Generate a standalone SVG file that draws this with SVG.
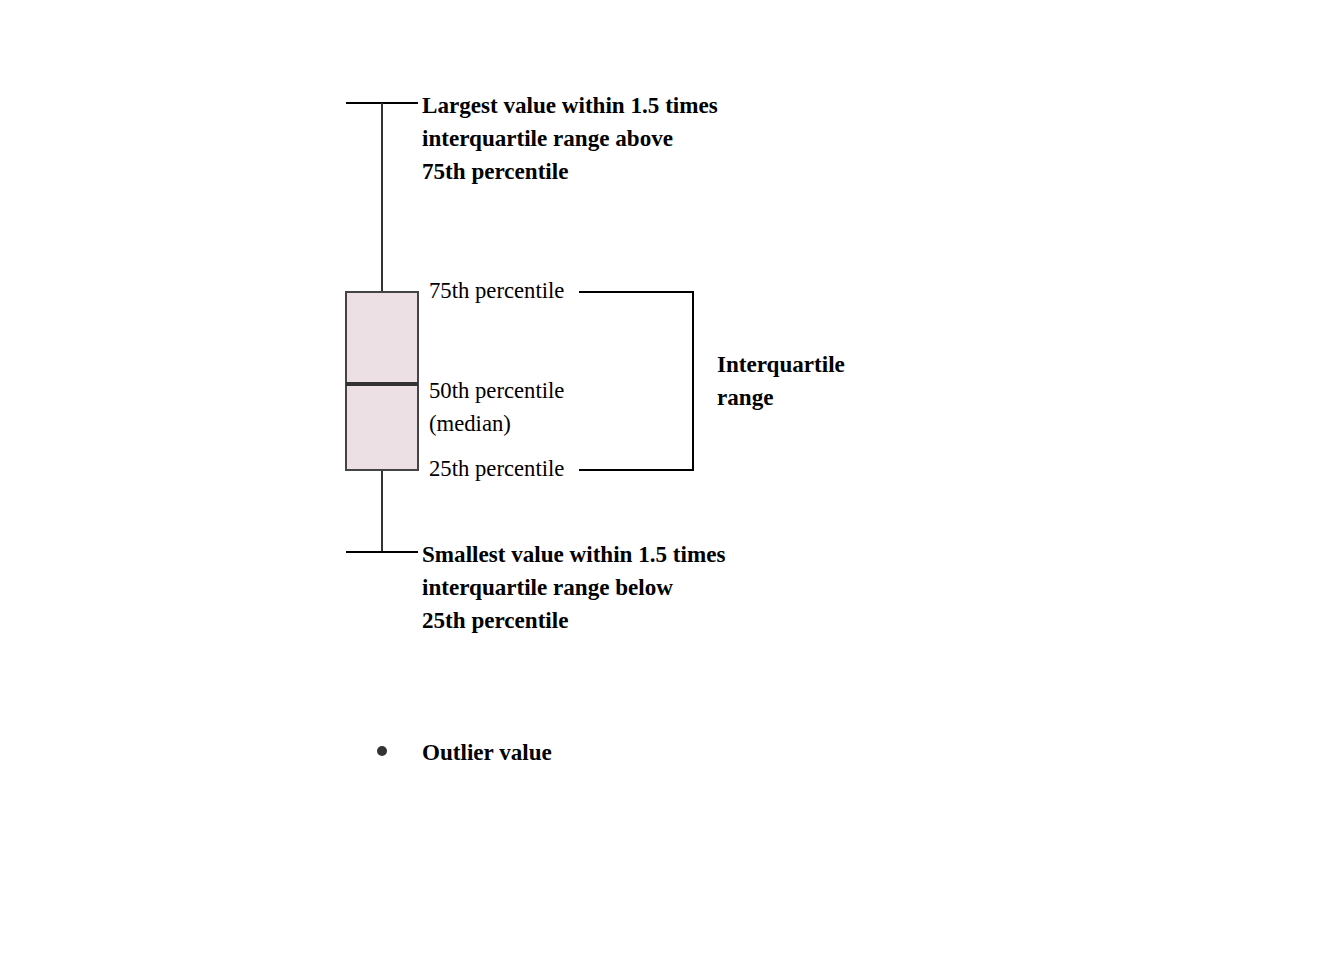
<svg xmlns="http://www.w3.org/2000/svg" width="1344" height="960" viewBox="0 0 1344 960">
<style>
.t{font-family:"Liberation Serif","Times New Roman",serif;font-size:22.7px;fill:#000}
.b{font-weight:bold;font-size:23.1px}
.ln{stroke:#000;stroke-width:2;fill:none}
.wh{stroke:#333;stroke-width:2;fill:none}
</style>
<rect width="1344" height="960" fill="#fff"/>
<g id="connectors">
<line class="ln" x1="346" y1="103" x2="418" y2="103"/>
<line class="wh" x1="382" y1="103" x2="382" y2="292"/>
<line class="wh" x1="382" y1="470" x2="382" y2="552"/>
<line class="ln" x1="346" y1="552" x2="418" y2="552"/>
<polyline class="ln" points="579,292 693,292 693,470 579,470"/>
</g>
<g id="box">
<rect x="346" y="292" width="72" height="178" fill="#ede0e5" stroke="#444" stroke-width="2"/>
<line x1="346" y1="384" x2="418" y2="384" stroke="#333" stroke-width="4"/>
</g>
<g id="upper-label">
<text class="t b" x="422" y="113">Largest value within 1.5 times</text>
<text class="t b" x="422" y="146">interquartile range above</text>
<text class="t b" x="422" y="179">75th percentile</text>
</g>
<g id="p75"><text class="t" x="429" y="298">75th percentile</text></g>
<g id="p50">
<text class="t" x="429" y="398">50th percentile</text>
<text class="t" x="429" y="431">(median)</text>
</g>
<g id="p25"><text class="t" x="429" y="476">25th percentile</text></g>
<g id="iqr">
<text class="t b" x="717" y="372">Interquartile</text>
<text class="t b" x="717" y="405">range</text>
</g>
<g id="lower-label">
<text class="t b" x="422" y="562">Smallest value within 1.5 times</text>
<text class="t b" x="422" y="595">interquartile range below</text>
<text class="t b" x="422" y="628">25th percentile</text>
</g>
<g id="outlier">
<circle cx="382" cy="751" r="5" fill="#333"/>
<text class="t b" x="422" y="760">Outlier value</text>
</g>
</svg>
